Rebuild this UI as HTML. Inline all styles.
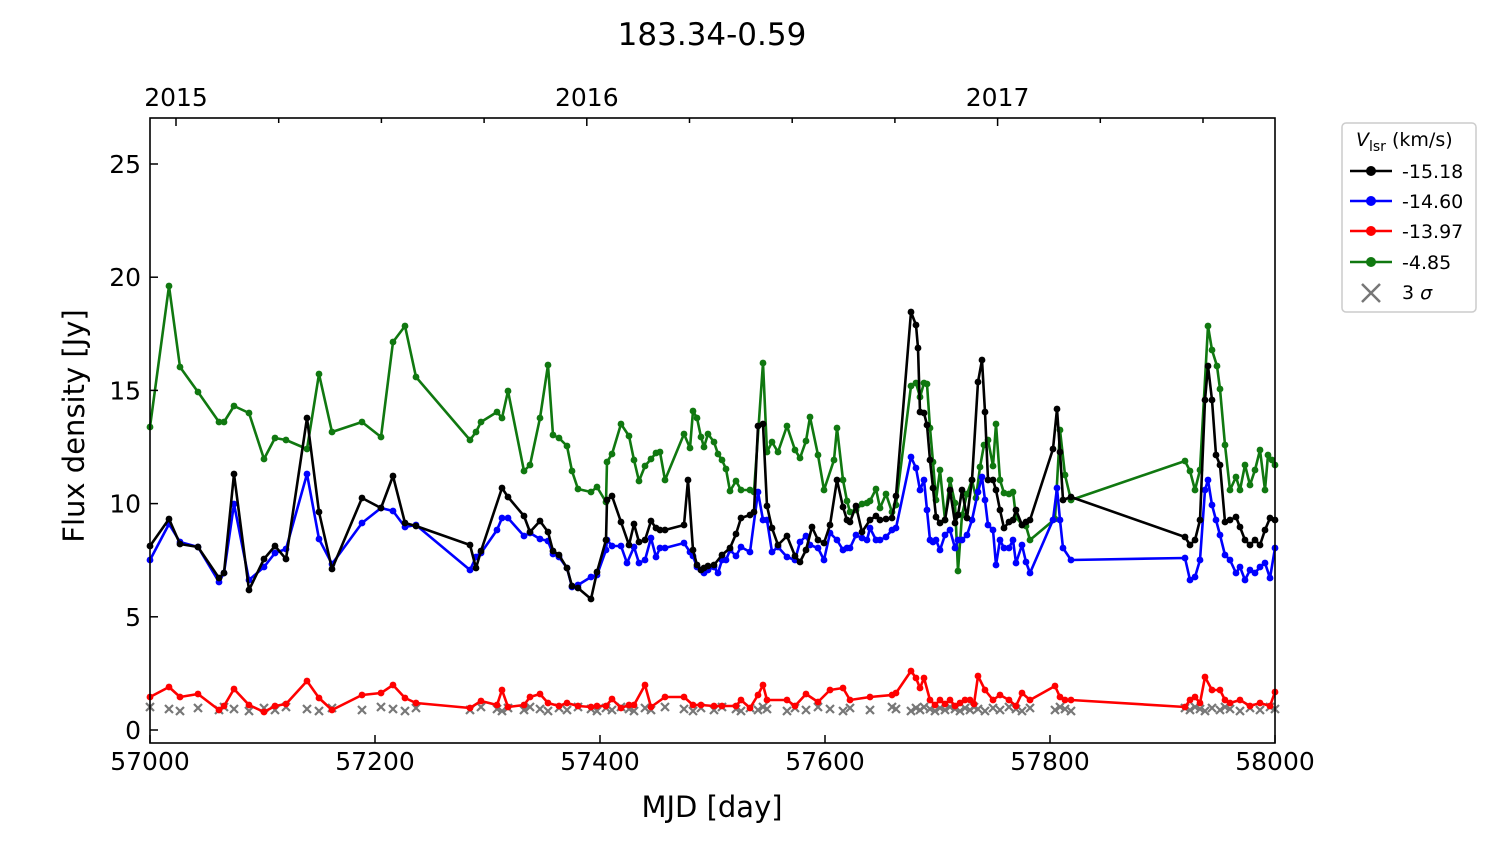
<!DOCTYPE html>
<html><head><meta charset="utf-8"><style>
body{margin:0;background:#fff;}
svg text{font-family:"DejaVu Sans","Liberation Sans",sans-serif;}
</style></head><body>
<svg id="s" width="1500" height="844" xmlns="http://www.w3.org/2000/svg">
<rect width="1500" height="844" fill="#fff"/>
<text x="712" y="45" font-size="31" text-anchor="middle">183.34-0.59</text>
<g id="plot"></g>
<rect x="150" y="118" width="1125" height="625" fill="none" stroke="#000" stroke-width="1.6"/>
<g id="ticks"></g>
<text x="712" y="817" font-size="29" text-anchor="middle">MJD [day]</text>
<text transform="translate(84,426) rotate(-90)" font-size="29" text-anchor="middle">Flux density [Jy]</text>
<g>
<rect x="1342" y="123" width="134" height="189" rx="4" fill="#fff" stroke="#ccc" stroke-width="1.5"/>
<text x="1356" y="146" font-size="19"><tspan font-style="italic">V</tspan><tspan font-size="14" dy="5">lsr</tspan><tspan dy="-5"> (km/s)</tspan></text>
<line x1="1350" y1="171" x2="1392" y2="171" stroke="#000" stroke-width="2.5"/><circle cx="1371" cy="171" r="5" fill="#000"/>
<text x="1402" y="178" font-size="19">-15.18</text>
<line x1="1350" y1="201" x2="1392" y2="201" stroke="#00f" stroke-width="2.5"/><circle cx="1371" cy="201" r="5" fill="#00f"/>
<text x="1402" y="208" font-size="19">-14.60</text>
<line x1="1350" y1="231" x2="1392" y2="231" stroke="#f00" stroke-width="2.5"/><circle cx="1371" cy="231" r="5" fill="#f00"/>
<text x="1402" y="238" font-size="19">-13.97</text>
<line x1="1350" y1="262" x2="1392" y2="262" stroke="#107810" stroke-width="2.5"/><circle cx="1371" cy="262" r="5" fill="#107810"/>
<text x="1402" y="269" font-size="19">-4.85</text>
<path d="M1362 284L1380 302M1380 284L1362 302" stroke="#777" stroke-width="2.5"/>
<text x="1402" y="299" font-size="19">3 <tspan font-style="italic">σ</tspan></text>
</g>
</svg>
<script>
const NS="http://www.w3.org/2000/svg";
const plot=document.getElementById('plot'),tk=document.getElementById('ticks');
function el(n,a,p){const e=document.createElementNS(NS,n);for(const k in a)e.setAttribute(k,a[k]);(p||plot).appendChild(e);return e;}
function P(s){const a=s.split(/[(),\s]+/).filter(x=>x).map(Number);const r=[];for(let i=0;i<a.length;i+=2)r.push([a[i],a[i+1]]);return r;}
const green=P("(150,427),(169,286),(180,367),(198,392),(219,422),(224,422),(234,406),(249,413),(264,459),(275,438),(286,440),(307,449),(319,374),(332,432),(362,422),(381,437),(393,342),(405,326),(416,377),(470,440),(476,432),(481,422),(497,412),(502,418),(508,391),(524,471),(530,465),(540,418),(548,365),(553,435),(559,438),(567,446),(572,471),(578,489),(591,492),(597,487),(606,502),(607,462),(612,454),(621,424),(629,436),(634,460),(639,481),(645,466),(651,459),(656,453),(660,452),(665,480),(684,434),(690,448),(693,411),(697,418),(701,437),(704,447),(708,434),(714,442),(718,454),(722,460),(726,469),(730,491),(736,481),(741,490),(750,490),(754,492),(763,363),(767,452),(772,442),(778,452),(787,426),(795,450),(800,458),(806,441),(810,417),(818,455),(824,490),(834,460),(837,428),(843,480),(847,501),(850,512),(856,510),(862,504),(867,503),(870,501),(876,489),(880,508),(886,494),(892,512),(896,505),(911,386),(916,383),(920,397),(924,383),(927,384),(930,428),(933,462),(936,500),(940,470),(945,520),(950,480),(955,503),(958,571),(962,515),(967,494),(972,480),(976,498),(980,467),(984,445),(988,440),(993,466),(996,424),(1000,480),(1004,493),(1009,494),(1013,492),(1016,517),(1022,525),(1026,526),(1030,540),(1055,519),(1060,430),(1065,475),(1071,500),(1185,461),(1190,471),(1195,490),(1200,470),(1208,326),(1212,350),(1217,366),(1220,389),(1225,445),(1230,490),(1236,477),(1240,490),(1245,465),(1250,485),(1255,470),(1260,450),(1265,490),(1268,455),(1272,460),(1275,465)");
const black=P("(150,546),(169,519),(180,544),(198,547),(219,578),(224,573),(234,474),(249,590),(264,559),(275,546),(286,559),(307,418),(319,512),(332,569),(362,498),(381,508),(393,476),(405,523),(416,526),(470,545),(476,568),(481,551),(502,488),(508,497),(524,516),(530,532),(540,521),(548,532),(553,551),(559,555),(567,568),(572,586),(578,588),(591,599),(597,572),(606,540),(607,500),(612,496),(621,522),(629,545),(634,524),(639,542),(645,540),(651,521),(656,528),(660,530),(665,530),(684,525),(688,480),(693,550),(697,565),(701,570),(704,568),(708,566),(714,565),(722,555),(730,548),(736,534),(741,518),(750,515),(754,512),(758,426),(763,424),(767,506),(772,528),(778,545),(787,536),(795,556),(800,562),(806,550),(812,527),(818,540),(824,543),(830,525),(837,480),(843,507),(847,520),(850,522),(856,506),(862,532),(870,520),(876,516),(880,520),(886,519),(892,518),(896,496),(911,312),(916,325),(918,348),(920,412),(924,413),(927,425),(930,460),(933,488),(936,517),(940,523),(945,520),(950,490),(955,523),(958,515),(962,490),(967,518),(972,480),(978,382),(982,360),(985,412),(988,480),(993,480),(996,490),(1000,510),(1004,528),(1009,522),(1013,520),(1016,510),(1022,525),(1026,522),(1030,520),(1053,449),(1057,409),(1060,452),(1063,500),(1071,497),(1185,537),(1190,545),(1195,540),(1200,520),(1205,400),(1208,366),(1212,400),(1216,455),(1220,465),(1225,522),(1230,520),(1236,517),(1240,527),(1245,540),(1250,545),(1255,540),(1260,545),(1265,530),(1270,518),(1275,520)");
const blue=P("(150,560),(169,524),(180,542),(198,547),(219,582),(224,573),(234,504),(249,580),(264,567),(275,553),(286,549),(307,474),(319,539),(332,564),(362,523),(381,508),(393,511),(405,527),(416,525),(470,570),(476,557),(481,553),(497,530),(502,518),(508,518),(524,536),(530,533),(540,539),(548,541),(553,554),(559,557),(567,568),(572,587),(578,585),(591,577),(597,575),(606,550),(607,540),(612,546),(621,546),(627,563),(634,547),(639,563),(645,560),(651,538),(656,557),(660,548),(665,548),(684,543),(690,552),(693,556),(697,567),(701,570),(704,573),(708,570),(714,567),(718,573),(722,560),(726,560),(730,550),(736,556),(741,547),(750,552),(758,492),(763,520),(767,520),(772,552),(778,547),(787,557),(795,560),(800,542),(806,536),(810,545),(818,548),(824,560),(830,533),(837,540),(843,550),(847,548),(850,548),(856,535),(862,538),(867,540),(870,528),(876,540),(880,540),(886,537),(892,530),(896,528),(911,457),(916,468),(920,490),(924,480),(927,510),(930,540),(933,542),(936,540),(940,550),(945,535),(950,530),(955,548),(958,540),(962,540),(967,535),(972,520),(978,492),(982,477),(985,500),(988,525),(993,530),(996,565),(1000,540),(1004,548),(1009,548),(1013,540),(1016,563),(1022,545),(1026,562),(1030,573),(1053,520),(1057,488),(1060,520),(1063,548),(1071,560),(1185,558),(1190,580),(1195,577),(1200,560),(1205,490),(1208,480),(1212,505),(1216,520),(1220,535),(1225,555),(1230,560),(1236,573),(1240,567),(1245,580),(1250,570),(1255,573),(1260,567),(1265,563),(1270,578),(1275,548)");
const red=P("(150,697),(169,687),(180,697),(198,694),(219,710),(224,706),(234,689),(249,705),(264,712),(275,706),(286,704),(307,681),(319,698),(332,710),(362,695),(381,693),(393,685),(405,698),(416,703),(470,708),(481,701),(497,705),(502,690),(508,707),(524,705),(530,697),(540,694),(548,703),(559,706),(567,703),(578,706),(591,707),(597,706),(606,706),(612,699),(621,708),(629,705),(634,705),(645,685),(651,707),(665,697),(684,697),(693,705),(701,705),(714,706),(722,706),(736,706),(741,700),(750,708),(758,695),(763,685),(767,700),(787,700),(795,706),(806,694),(818,702),(830,690),(843,688),(850,700),(870,697),(892,695),(896,693),(911,671),(916,678),(920,688),(924,678),(930,700),(935,705),(940,700),(945,704),(950,700),(955,706),(960,703),(965,700),(970,700),(974,704),(978,676),(985,690),(993,700),(1000,695),(1009,700),(1016,706),(1022,693),(1030,700),(1055,686),(1060,697),(1065,700),(1071,700),(1185,707),(1190,700),(1195,697),(1200,703),(1205,677),(1212,690),(1220,690),(1225,700),(1230,703),(1240,700),(1250,706),(1260,703),(1270,706),(1275,692)");
function series(pts,c){el('polyline',{points:pts.map(p=>p.join(',')).join(' '),fill:'none',stroke:c,'stroke-width':2.6,'stroke-linejoin':'round'});pts.forEach(p=>el('circle',{cx:p[0],cy:p[1],r:3.4,fill:c}));}
const xs=[];
red.forEach(p=>xs.push(p[0]));
xs.forEach((x,i)=>{const y=709+((i*7)%5)-2;el('path',{d:`M${x-4} ${y-4}L${x+4} ${y+4}M${x+4} ${y-4}L${x-4} ${y+4}`,stroke:'#777','stroke-width':2.2});});
series(red,'#f00');series(green,'#107810');series(blue,'#00f');series(black,'#000');
for(let v=57000;v<=58000;v+=200){const x=150+(v-57000)*1.125;el('line',{x1:x,y1:743,x2:x,y2:735,stroke:'#000','stroke-width':1.5},tk);el('text',{x:x,y:770,'font-size':25,'text-anchor':'middle'},tk).textContent=v;}
for(let v=0;v<=25;v+=5){const y=730-22.64*v;el('line',{x1:150,y1:y,x2:158,y2:y,stroke:'#000','stroke-width':1.5},tk);el('text',{x:141,y:y+9,'font-size':25,'text-anchor':'end'},tk).textContent=v;}
for(let k=0;k<11;k++){const x=176+102.7*k;if(x>1275)break;const major=(k%4==0);el('line',{x1:x,y1:118,x2:x,y2:major?126:123,stroke:'#000','stroke-width':1.5},tk);if(major)el('text',{x:x,y:106,'font-size':25,'text-anchor':'middle'},tk).textContent=2015+k/4;}
</script>
</body></html>
